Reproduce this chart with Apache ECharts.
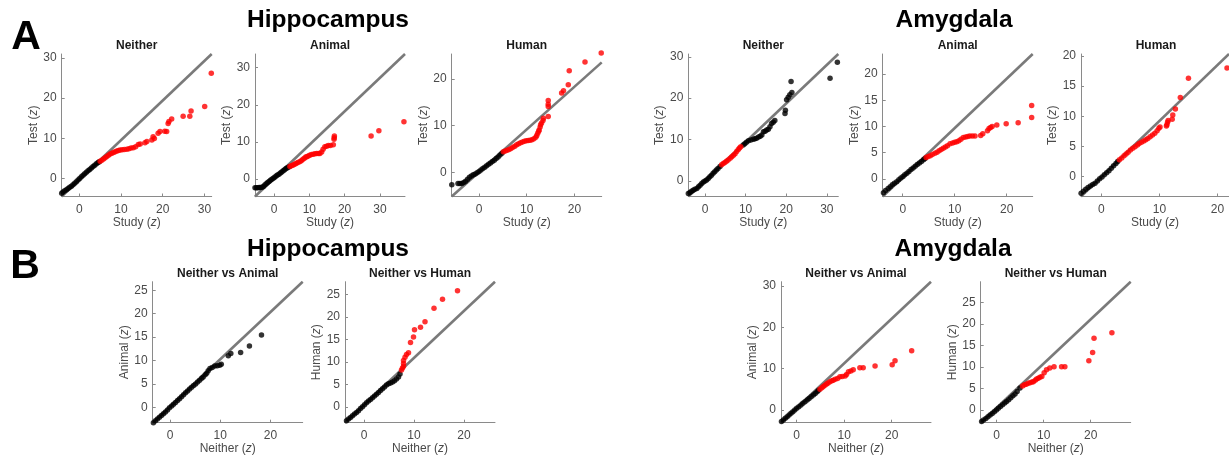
<!DOCTYPE html>
<html>
<head>
<meta charset="utf-8">
<style>
  html, body { margin: 0; padding: 0; background: #ffffff; }
  #chart { width: 1229px; height: 461px; }
</style>
<script src="https://cdn.jsdelivr.net/npm/echarts@6/dist/echarts.min.js"></script>
</head>
<body>
<div id="chart"></div>
<script>
// ---------- Q-Q data: [x, y] z-score pairs ----------
// Hippocampus, study vs test
const hipNeitherBlack = [[-4.22,-3.6],[-3.9,-3.3],[-3.5,-3.0],[-3.1,-2.75],[-2.7,-2.45],[-2.3,-2.15],[-1.9,-1.85],[-1.5,-1.5],[-1.1,-1.15],[-0.7,-0.75],[-0.3,-0.35],[0.1,0.05],[0.5,0.45],[0.9,0.85],[1.3,1.2],[1.7,1.6],[2.1,1.95],[2.5,2.3],[2.9,2.65],[3.3,3.0],[3.7,3.35],[4.1,3.7],[4.5,4.0],[4.8,4.2]];
const hipNeitherRed = [[5.0,4.3],[5.4,4.6],[5.8,4.9],[6.2,5.2],[6.6,5.5],[7.0,5.8],[7.4,6.1],[7.8,6.3],[8.2,6.5],[8.6,6.7],[9.0,6.85],[9.4,7.0],[9.8,7.1],[10.3,7.2],[10.8,7.25],[11.4,7.3],[11.9,7.45],[12.4,7.6],[12.95,7.7],[13.5,7.95],[14.15,8.5],[14.6,8.6],[15.75,8.9],[16.2,9.2],[17.4,9.6],[17.7,10.4],[18.0,10.0],[18.9,11.3],[19.35,11.7],[20.5,11.8],[20.95,11.7],[21.3,13.7],[21.5,14.2],[22.15,14.8],[24.9,15.5],[26.5,15.5],[26.8,16.8],[30.07,17.9],[31.65,26.15]];
const hipAnimalBlack = [[-5.38,-2.35],[-5.0,-2.35],[-4.6,-2.35],[-4.2,-2.3],[-3.8,-2.3],[-3.4,-2.25],[-3.0,-2.0],[-2.6,-1.6],[-2.2,-1.25],[-1.8,-0.95],[-1.4,-0.65],[-1.0,-0.35],[-0.6,-0.05],[-0.2,0.2],[0.2,0.5],[0.6,0.8],[1.0,1.05],[1.4,1.3],[1.8,1.6],[2.2,1.9],[2.6,2.2],[3.0,2.5],[3.4,2.8],[3.8,3.05],[4.3,3.3]];
const hipAnimalRed = [[4.5,3.4],[4.9,3.55],[5.3,3.7],[5.7,3.9],[6.1,4.1],[6.5,4.3],[6.9,4.5],[7.4,4.7],[7.8,5.0],[8.2,5.3],[8.6,5.6],[9.0,5.9],[9.3,6.0],[9.7,6.2],[10.1,6.4],[10.6,6.6],[11.1,6.7],[11.6,6.8],[12.1,6.85],[12.6,6.9],[13.0,6.9],[13.5,7.3],[13.9,8.0],[14.4,8.7],[14.9,8.8],[15.4,9.0],[16.0,9.0],[16.8,9.2],[17.0,10.7],[17.05,11.1],[17.1,11.6],[27.5,11.6],[29.7,13.0],[36.8,15.4]];
const hipHumanBlack = [[-5.7,-2.7],[-4.4,-2.4],[-4.0,-2.4],[-3.6,-2.4],[-3.2,-2.2],[-2.8,-1.9],[-2.4,-1.5],[-2.0,-1.05],[-1.6,-0.8],[-1.2,-0.55],[-0.8,-0.35],[-0.4,-0.1],[0.0,0.15],[0.4,0.5],[0.8,0.8],[1.2,1.1],[1.6,1.4],[2.0,1.7],[2.4,2.0],[2.8,2.3],[3.2,2.6],[3.6,2.95],[4.0,3.3],[4.4,3.7],[4.8,4.1]];
const hipHumanRed = [[5.1,4.4],[5.5,4.55],[5.9,4.75],[6.3,4.9],[6.7,5.1],[7.1,5.35],[7.5,5.6],[7.9,5.9],[8.3,6.15],[8.7,6.35],[9.1,6.5],[9.5,6.65],[9.9,6.75],[10.3,6.85],[10.7,6.9],[11.1,7.0],[11.5,7.2],[11.9,7.5],[12.1,7.9],[12.3,8.4],[12.5,8.8],[12.6,9.1],[12.8,9.7],[12.9,10.2],[13.1,10.6],[13.4,11.1],[13.5,11.6],[14.5,12.0],[14.5,14.1],[14.5,14.6],[14.5,15.4],[17.3,17.0],[17.7,17.5],[18.7,18.8],[18.9,21.8],[22.2,23.7],[25.6,25.6]];

// Amygdala, study vs test
const amyNeitherBlack = [[-4.1,-3.0],[-3.7,-2.75],[-3.3,-2.5],[-2.9,-2.25],[-2.5,-2.0],[-2.0,-1.8],[-1.6,-1.4],[-1.2,-1.0],[-0.8,-0.6],[-0.4,-0.25],[0.0,0.0],[0.4,0.25],[0.8,0.6],[1.2,1.0],[1.6,1.4],[2.0,1.85],[2.4,2.25],[2.8,2.65],[3.2,3.05],[3.7,3.5],[9.4,8.7],[9.8,9.0],[10.2,9.35],[10.7,9.7],[11.3,9.9],[11.9,10.1],[12.3,10.2],[12.7,10.3],[13.2,10.6],[13.6,10.8],[14.0,11.1],[14.4,11.9],[14.8,12.0],[15.2,12.3],[15.6,12.5],[16.0,13.1],[16.4,13.9],[16.8,14.2],[17.2,14.6],[19.7,16.3],[19.8,17.1],[20.1,19.6],[20.5,20.2],[20.9,20.8],[21.4,21.4],[21.2,24.0],[30.8,24.8],[32.6,28.7]];
const amyNeitherRed = [[4.1,3.9],[4.5,4.2],[4.9,4.5],[5.3,4.8],[5.7,5.1],[6.2,5.5],[6.6,5.85],[7.0,6.2],[7.4,6.6],[7.8,7.1],[8.2,7.6],[8.5,7.95],[8.8,8.3]];
const amyAnimalBlack = [[-3.7,-2.6],[-3.3,-2.2],[-2.8,-1.8],[-2.4,-1.45],[-2.0,-1.1],[-1.6,-0.8],[-1.15,-0.5],[-0.75,-0.15],[-0.35,0.2],[0.05,0.5],[0.4,0.8],[0.8,1.1],[1.2,1.45],[1.6,1.8],[2.0,2.1],[2.4,2.45],[2.8,2.75],[3.2,3.05],[3.6,3.35],[4.0,3.65],[4.3,3.9]];
const amyAnimalRed = [[4.5,4.1],[4.9,4.3],[5.3,4.45],[5.7,4.65],[6.2,4.9],[6.6,5.1],[7.0,5.4],[7.4,5.6],[7.8,5.85],[8.2,6.1],[8.6,6.35],[9.1,6.7],[9.6,6.85],[10.0,7.0],[10.4,7.1],[10.8,7.3],[11.2,7.55],[11.65,7.9],[12.1,8.0],[12.5,8.1],[12.9,8.2],[13.4,8.2],[13.9,8.2],[15.0,8.3],[15.4,8.6],[16.3,9.2],[16.6,9.6],[16.9,9.8],[17.2,10.0],[18.1,10.3],[19.9,10.5],[22.2,10.7],[24.8,11.7],[24.8,14.0]];
const amyHumanBlack = [[-3.5,-2.75],[-3.1,-2.4],[-2.7,-2.1],[-2.3,-1.8],[-1.9,-1.55],[-1.5,-1.3],[-1.1,-1.1],[-0.7,-0.7],[-0.3,-0.35],[0.1,-0.05],[0.5,0.3],[0.9,0.65],[1.3,1.0],[1.7,1.4],[2.1,1.8],[2.5,2.2],[2.8,2.5]];
const amyHumanRed = [[3.1,2.8],[3.5,3.1],[3.9,3.45],[4.25,3.75],[4.6,4.05],[5.0,4.4],[5.4,4.7],[5.8,4.95],[6.2,5.25],[6.5,5.5],[6.9,5.7],[7.3,5.9],[7.65,6.1],[8.0,6.3],[8.4,6.6],[8.8,6.9],[9.2,7.2],[9.6,7.6],[9.9,8.0],[10.1,8.2],[11.2,8.4],[11.3,8.6],[11.4,9.0],[11.5,9.3],[12.2,9.5],[12.3,10.2],[12.75,11.2],[13.6,13.1],[15.0,16.3],[21.65,18.0]];

// Between-condition comparisons
const hipNvABlack = [[-3.3,-3.3],[-2.9,-2.9],[-2.5,-2.5],[-2.1,-2.1],[-1.7,-1.75],[-1.3,-1.4],[-0.9,-1.0],[-0.5,-0.55],[-0.1,-0.1],[0.33,0.28],[0.7,0.65],[1.1,1.05],[1.5,1.45],[1.9,1.85],[2.3,2.25],[2.7,2.7],[3.1,3.1],[3.5,3.5],[3.9,3.9],[4.3,4.3],[4.7,4.65],[5.1,5.0],[5.5,5.4],[5.9,5.8],[6.3,6.2],[6.6,6.5],[7.0,6.95],[7.3,7.3],[7.6,7.8],[7.95,8.3],[8.4,8.5],[8.9,8.8],[9.4,8.9],[9.9,9.0],[10.2,9.2],[11.6,11.0],[12.1,11.5],[14.05,11.7],[15.8,13.1],[18.2,15.45]];
const hipNvARed = [];
const hipNvHBlack = [[-3.5,-3.1],[-3.1,-2.7],[-2.7,-2.35],[-2.3,-2.0],[-1.9,-1.6],[-1.5,-1.25],[-1.1,-0.85],[-0.7,-0.4],[-0.3,0.0],[0.1,0.45],[0.5,0.9],[0.9,1.3],[1.3,1.65],[1.7,2.0],[2.1,2.4],[2.5,2.8],[2.9,3.2],[3.3,3.6],[3.7,4.0],[4.1,4.4],[4.5,4.85],[4.9,5.1],[5.3,5.3],[5.7,5.5],[6.1,5.8],[6.5,6.2],[6.9,6.6],[7.2,7.3]];
const hipNvHRed = [[7.5,8.2],[7.7,8.6],[7.9,9.0],[7.9,9.6],[7.9,10.3],[8.2,11.0],[8.5,11.6],[8.9,12.0],[9.3,14.3],[9.9,15.5],[10.1,17.1],[11.3,17.7],[12.2,18.9],[14.0,21.9],[15.7,23.9],[18.7,25.8]];
const amyNvABlack = [[-3.2,-2.8],[-2.8,-2.4],[-2.4,-2.0],[-2.0,-1.65],[-1.6,-1.2],[-1.2,-0.8],[-0.8,-0.4],[-0.4,0.0],[0.0,0.4],[0.45,0.8],[0.9,1.2],[1.3,1.6],[1.75,2.0],[2.2,2.4],[2.6,2.8],[3.05,3.2],[3.5,3.6],[3.9,4.0],[4.3,4.4],[4.6,4.75]];
const amyNvARed = [[4.9,5.0],[5.3,5.35],[5.6,5.7],[5.95,6.0],[6.3,6.3],[6.6,6.55],[7.0,6.85],[7.4,7.05],[7.7,7.2],[8.1,7.4],[8.6,7.6],[9.1,8.0],[9.6,8.1],[10.2,8.2],[10.5,8.6],[10.9,9.25],[11.4,9.4],[11.9,9.7],[13.3,10.2],[14.0,10.2],[16.5,10.6],[20.1,10.9],[20.7,11.9],[24.2,14.3]];
const amyNvHBlack = [[-3.2,-2.7],[-2.8,-2.35],[-2.3,-2.0],[-1.85,-1.6],[-1.4,-1.2],[-0.95,-0.8],[-0.5,-0.4],[-0.05,0.0],[0.35,0.4],[0.8,0.8],[1.25,1.2],[1.7,1.6],[2.1,1.95],[2.55,2.4],[3.0,2.85],[3.45,3.3],[3.9,3.7],[4.35,4.3],[4.96,5.1]];
const amyNvHRed = [[5.5,5.6],[5.9,5.85],[6.3,6.0],[6.7,6.2],[7.1,6.35],[7.5,6.5],[7.8,6.6],[8.2,6.9],[8.5,7.2],[8.85,7.4],[9.2,7.6],[9.6,7.8],[10.1,8.7],[10.6,9.4],[11.3,9.8],[12.2,10.1],[13.8,10.1],[14.5,10.1],[19.6,11.5],[20.4,13.4],[20.7,16.7],[24.5,18.0]];

// ---------- tick labels ----------
const ticks0to30by10 = [0, 10, 20, 30];
const ticks0to20by10 = [0, 10, 20];
const ticks0to20by5 = [0, 5, 10, 15, 20];
const ticks0to25by5 = [0, 5, 10, 15, 20, 25];

// ---------- panel contents (axis ranges, labels, series) ----------
const panels = [
  { title: 'Neither', xName: 'Study', yName: 'Test', xLim: [-4.22, 31.75], yLim: [-4.42, 30.94], lineEndY: 30.94, xTicks: ticks0to30by10, yTicks: ticks0to30by10, black: hipNeitherBlack, red: hipNeitherRed },
  { title: 'Animal', xName: 'Study', yName: 'Test', xLim: [-5.38, 37.1], yLim: [-4.72, 33.7], lineEndY: 33.7, xTicks: ticks0to30by10, yTicks: ticks0to30by10, black: hipAnimalBlack, red: hipAnimalRed },
  { title: 'Human', xName: 'Study', yName: 'Test', xLim: [-5.72, 25.7], yLim: [-5.2, 25.4], lineEndY: 23.6, xTicks: ticks0to20by10, yTicks: ticks0to20by10, black: hipHumanBlack, red: hipHumanRed },
  { title: 'Neither', xName: 'Study', yName: 'Test', xLim: [-4.11, 32.83], yLim: [-3.74, 30.67], lineEndY: 30.67, xTicks: ticks0to30by10, yTicks: ticks0to30by10, black: amyNeitherBlack, red: amyNeitherRed },
  { title: 'Animal', xName: 'Study', yName: 'Test', xLim: [-3.85, 25.0], yLim: [-3.33, 23.8], lineEndY: 23.8, xTicks: ticks0to20by10, yTicks: ticks0to20by5, black: amyAnimalBlack, red: amyAnimalRed },
  { title: 'Human', xName: 'Study', yName: 'Test', xLim: [-3.52, 21.99], yLim: [-3.28, 20.3], lineEndY: 20.3, xTicks: ticks0to20by10, yTicks: ticks0to20by5, black: amyHumanBlack, red: amyHumanRed },
  { title: 'Neither vs Animal', xName: 'Neither', yName: 'Animal', xLim: [-3.44, 26.4], yLim: [-3.29, 26.84], lineEndY: 26.84, xTicks: ticks0to20by10, yTicks: ticks0to25by5, black: hipNvABlack, red: hipNvARed },
  { title: 'Neither vs Human', xName: 'Neither', yName: 'Human', xLim: [-3.8, 26.2], yLim: [-3.53, 27.8], lineEndY: 27.8, xTicks: ticks0to20by10, yTicks: ticks0to25by5, black: hipNvHBlack, red: hipNvHRed },
  { title: 'Neither vs Animal', xName: 'Neither', yName: 'Animal', xLim: [-3.3, 28.27], yLim: [-3.07, 30.99], lineEndY: 30.99, xTicks: ticks0to20by10, yTicks: ticks0to30by10, black: amyNvABlack, red: amyNvARed },
  { title: 'Neither vs Human', xName: 'Neither', yName: 'Human', xLim: [-3.4, 28.5], yLim: [-2.97, 29.9], lineEndY: 29.9, xTicks: ticks0to20by10, yTicks: ticks0to25by5, black: amyNvHBlack, red: amyNvHRed }
];

// ---------- layout (pixel boxes of each axes) ----------
const boxes = [
  { left: 61.7, top: 54, width: 150, height: 142.5 },
  { left: 255, top: 54, width: 150, height: 142.5 },
  { left: 451.7, top: 54, width: 150, height: 142.5 },
  { left: 688.3, top: 54, width: 150, height: 142.5 },
  { left: 882.7, top: 54, width: 150, height: 142.5 },
  { left: 1081, top: 54, width: 150, height: 142.5 },
  { left: 152.7, top: 281.7, width: 150, height: 141 },
  { left: 345, top: 281.7, width: 150, height: 141 },
  { left: 781, top: 281.7, width: 150, height: 141 },
  { left: 980.7, top: 281.7, width: 150, height: 141 }
];

const FONT = '"Liberation Sans", Arial, Helvetica, sans-serif';
const AXIS_GRAY = '#8a8a8a';
const TEXT_GRAY = '#4a4a4a';

const grid = [], xAxis = [], yAxis = [], series = [], graphic = [];

panels.forEach((p, i) => {
  const b = boxes[i];
  grid.push({ left: b.left, top: b.top, width: b.width, height: b.height, containLabel: false });

  const common = {
    type: 'value',
    gridIndex: i,
    splitLine: { show: false },
    axisLine: { show: true, onZero: false, lineStyle: { color: AXIS_GRAY, width: 1 } },
    nameLocation: 'middle',
    nameTextStyle: { color: TEXT_GRAY, fontFamily: FONT, fontSize: 12, rich: { i: { fontStyle: 'italic', color: TEXT_GRAY, fontFamily: FONT, fontSize: 12 } } }
  };

  xAxis.push(Object.assign({}, common, {
    min: p.xLim[0], max: p.xLim[1],
    name: p.xName + ' ({i|z})', nameGap: 20,
    axisTick: { show: true, inside: true, length: 3, lineStyle: { color: AXIS_GRAY }, customValues: p.xTicks },
    axisLabel: { color: TEXT_GRAY, fontFamily: FONT, fontSize: 12, margin: 7, customValues: p.xTicks }
  }));
  yAxis.push(Object.assign({}, common, {
    min: p.yLim[0], max: p.yLim[1],
    name: p.yName + ' ({i|z})', nameGap: 19,
    axisTick: { show: true, inside: true, length: 3, lineStyle: { color: AXIS_GRAY }, customValues: p.yTicks },
    axisLabel: { color: TEXT_GRAY, fontFamily: FONT, fontSize: 12, margin: 5, customValues: p.yTicks }
  }));

  // reference diagonal
  series.push({
    type: 'line', xAxisIndex: i, yAxisIndex: i,
    data: [[p.xLim[0], p.yLim[0]], [p.xLim[1], p.lineEndY]],
    showSymbol: false, symbol: 'none', silent: true, z: 1,
    lineStyle: { color: '#7a7a7a', width: 2.6 }
  });
  series.push({
    type: 'scatter', xAxisIndex: i, yAxisIndex: i, data: p.black,
    symbolSize: 5.5, clip: false, silent: true, z: 2,
    itemStyle: { color: '#000000' }
  });
  if (p.red.length) {
    series.push({
      type: 'scatter', xAxisIndex: i, yAxisIndex: i, data: p.red,
      symbolSize: 5.5, clip: false, silent: true, z: 3,
      itemStyle: { color: '#ff0000' }
    });
  }

  // panel title
  graphic.push({
    type: 'text', x: b.left + b.width / 2, y: b.top - 8,
    style: { text: p.title, fill: '#1a1a1a', font: 'bold 12px ' + FONT, align: 'center', verticalAlign: 'middle' }
  });
});

// region headings and panel letters
const headings = [
  { text: 'Hippocampus', x: 328, y: 20 },
  { text: 'Amygdala', x: 954, y: 20 },
  { text: 'Hippocampus', x: 328, y: 249.5 },
  { text: 'Amygdala', x: 953, y: 249.5 }
];
headings.forEach(h => graphic.push({
  type: 'text', x: h.x, y: h.y,
  style: { text: h.text, fill: '#000000', font: 'bold 24.5px ' + FONT, align: 'center', verticalAlign: 'middle' }
}));
[{ text: 'A', x: 26, y: 38 }, { text: 'B', x: 25, y: 267 }].forEach(l => graphic.push({
  type: 'text', x: l.x, y: l.y,
  style: { text: l.text, fill: '#000000', font: 'bold 41px ' + FONT, align: 'center', verticalAlign: 'middle' }
}));

const chart = echarts.init(document.getElementById('chart'), null, { renderer: 'canvas' });
chart.setOption({
  animation: false,
  backgroundColor: '#ffffff',
  grid, xAxis, yAxis, series, graphic
});
</script>
</body>
</html>
